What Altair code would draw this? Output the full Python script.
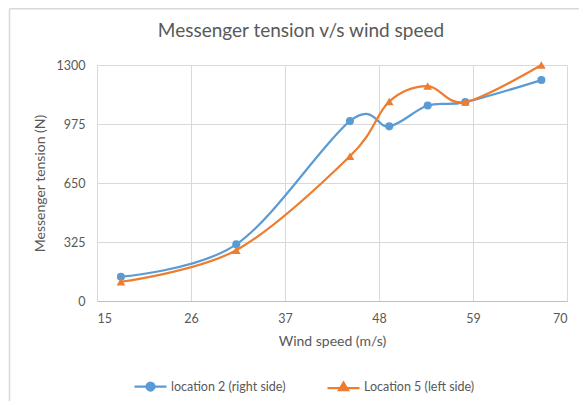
import altair as alt
import pandas as pd

wind_speed = [17.8, 31.3, 44.6, 49.2, 53.7, 58.1, 67.0]
loc2_right = [134, 312, 991, 962, 1077, 1096, 1217]
loc5_left = [106, 280, 797, 1099, 1184, 1096, 1300]
series_names = ["location 2 (right side)", "Location 5 (left side)"]
series_colors = ["#5B9BD5", "#ED7D31"]
series_shapes = ["circle", "triangle-up"]
x_ticks = [15, 26, 37, 48, 59, 70]
y_ticks = [0, 325, 650, 975, 1300]

df = pd.DataFrame({
    "speed": wind_speed + wind_speed,
    "tension": loc2_right + loc5_left,
    "series": [series_names[0]] * len(wind_speed) + [series_names[1]] * len(wind_speed),
})

GRID = "#d9d9d9"
TXT = "#595959"

x_enc = alt.X("speed:Q", scale=alt.Scale(domain=[15, 70], nice=False, zero=False),
              axis=alt.Axis(values=x_ticks, title="Wind speed (m/s)", grid=True,
                            gridColor=GRID, domain=True, domainColor="#bfbfbf",
                            ticks=False, labelPadding=11, labelFontSize=12.5,
                            labelColor=TXT, titleColor=TXT, titleFontSize=14,
                            titleFontWeight="normal", titleY=33, format="d"))
y_enc = alt.Y("tension:Q", scale=alt.Scale(domain=[0, 1300], nice=False),
              axis=alt.Axis(values=y_ticks, title="Messenger tension (N)", grid=True,
                            gridColor=GRID, domain=False, ticks=False, labelPadding=12,
                            labelFontSize=12.5, labelColor=TXT, titleColor=TXT,
                            titleFontSize=14, titleFontWeight="normal",
                            titleX=-50, titleY=118, format="d"))

base = alt.Chart(df)

series_layers = []
for name, col, shp in zip(series_names, series_colors, series_shapes):
    sub = base.transform_filter(alt.datum.series == name)
    series_layers.append(sub.mark_line(interpolate="cardinal", strokeWidth=2.25, color=col)
                         .encode(x=x_enc, y=y_enc))
    series_layers.append(sub.mark_point(shape=shp, filled=True, opacity=1, color=col,
                                        size=65 if shp == "circle" else 75)
                         .encode(x="speed:Q", y="tension:Q"))

circle_path = "M-3.2,0L3.2,0M0.8,0A0.8,0.8,0,1,1,-0.8,0A0.8,0.8,0,1,1,0.8,0Z"
tri_path = "M-3.2,0.25L3.2,0.25M0,-0.85L0.9,0.65L-0.9,0.65Z"

# legend-only layer: no rows reach it, its scales have fixed domains
legend_layer = base.transform_filter(alt.datum.speed < 0).mark_point(filled=True, opacity=1).encode(
    x="speed:Q", y="tension:Q",
    fill=alt.Fill("series:N", scale=alt.Scale(domain=series_names, range=series_colors),
                  legend=alt.Legend(title=None, orient="none", legendX=47, legendY=315,
                                    direction="horizontal", columns=2, symbolSize=100,
                                    symbolStrokeWidth=2.25, symbolOpacity=1, labelOffset=14,
                                    columnPadding=37, labelFontSize=12.5, labelColor=TXT,
                                    padding=0)),
    stroke=alt.Stroke("series:N", scale=alt.Scale(domain=series_names, range=series_colors)),
    shape=alt.Shape("series:N", scale=alt.Scale(domain=series_names,
                                                 range=[circle_path, tri_path])),
)

frame_df = pd.DataFrame({"k": [0]})
frame_top = alt.Chart(frame_df).mark_rule(color=GRID, strokeWidth=1.5).encode(
    x=alt.value(-87.5), x2=alt.value(490), y=alt.value(-56.25))
frame_left = alt.Chart(frame_df).mark_rule(color=GRID, strokeWidth=1.5).encode(
    x=alt.value(-87.5), y=alt.value(-56.25), y2=alt.value(340))

chart = alt.layer(frame_top, frame_left, *series_layers, legend_layer).properties(
    width=470, height=236,
    autosize=alt.AutoSizeParams(type="none"),
    padding={"left": 89, "top": 57, "right": 12, "bottom": 100},
    title=alt.TitleParams("Messenger tension v/s wind speed", fontSize=19, color=TXT,
                          fontWeight="normal", anchor="middle", frame="group",
                          offset=-33, dx=-31),
).configure(font="Lato").configure_view(stroke=None)

chart.save("out.html", embed_options={"renderer": "svg", "actions": False})
